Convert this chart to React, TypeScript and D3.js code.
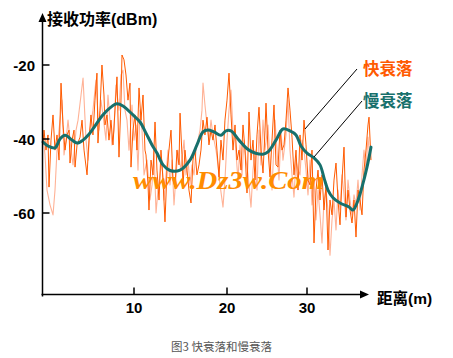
import React from "react";
import * as d3 from "d3";

const W = 453;
const H = 358;

// Fast fading, dark trace: [distance m, dBm]
const fastDark: [number, number][] = [
  [0, -41.6], [0.11, -37.6], [0.33, -43], [0.55, -38.9], [0.66, -53], [0.88, -40.3], [1.1, -33.5], [1.32, -43],
  [1.54, -38.9], [1.76, -45.7], [1.98, -24.9], [2.2, -36.2], [2.42, -43], [2.64, -38.9], [2.86, -37.6], [2.97, -46.5],
  [3.19, -40.3], [3.41, -37.6], [3.52, -47.6], [3.74, -41.6], [4.07, -39.5], [4.29, -34.9], [4.51, -43], [4.84, -49.7],
  [5.05, -40.3], [5.27, -33.5], [5.49, -38.9], [5.71, -29.5], [5.93, -22.2], [6.04, -41.1], [6.26, -32.2], [6.48, -20],
  [6.7, -28.1], [6.81, -36.2], [7.03, -33.5], [7.25, -40.3], [7.47, -34.9], [7.69, -41.6], [7.91, -32.2], [8.13, -23.2],
  [8.35, -44.9], [8.57, -29.5], [8.68, -17.3], [8.9, -18.6], [9.12, -22.7], [9.34, -29.5], [9.56, -24.9], [9.67, -47.6],
  [9.89, -37.6], [10.11, -33.5], [10.32, -43], [10.54, -26.2], [10.75, -34.9], [10.97, -28.1], [11.18, -43], [11.29, -44.3],
  [11.51, -52.4], [11.61, -59.2], [11.83, -45.7], [12.04, -49.7], [12.26, -35.4], [12.47, -48.4], [12.69, -56.5], [12.9, -43],
  [13.12, -51.1], [13.33, -62.4], [13.55, -48.4], [13.76, -43], [13.98, -37.6], [14.19, -51.1], [14.41, -53], [14.62, -43],
  [14.84, -47], [14.95, -33], [15.16, -44.3], [15.27, -53], [15.48, -43], [15.7, -48.4], [15.91, -53.8], [16.13, -57.3],
  [16.34, -45.7], [16.56, -43], [16.77, -49.7], [16.99, -47], [17.2, -43], [17.42, -34.9], [17.63, -38.9], [17.85, -34.1],
  [18.06, -41.6], [18.28, -37.6], [18.49, -40.3], [18.71, -36.2], [18.92, -43], [19.14, -50.3], [19.35, -40.3], [19.57, -45.7],
  [19.78, -34.9], [20, -29.5], [20.25, -22.2], [20.5, -33.5], [20.75, -43], [21.0, -36.2], [21.25, -45.7], [21.5, -43],
  [21.75, -48.4], [22.0, -36.2], [22.25, -43], [22.5, -54.6], [22.75, -32.7], [23.0, -45.7], [23.25, -40.3], [23.5, -51.1],
  [23.75, -38.9], [24.0, -31.4], [24.25, -43], [24.5, -49.2], [24.75, -37.6], [24.875, -30.3], [25.125, -43], [25.375, -50.3],
  [25.625, -40.3], [25.875, -30.8], [26.125, -47], [26.375, -47.6], [26.625, -37.6], [26.875, -43], [27.125, -41.6], [27.375, -34.9],
  [27.625, -26.2], [27.875, -32.2], [28.125, -39.5], [28.375, -49.7], [28.625, -43], [28.875, -53.8], [29.125, -38.9], [29.375, -45.7],
  [29.625, -34.9], [29.875, -41.6], [30.125, -51.1], [30.375, -52.4], [30.625, -43], [30.875, -68.1], [31.125, -53.8], [31.375, -48.4],
  [31.625, -56.5], [31.875, -49.7], [32.125, -59.2], [32.375, -52.4], [32.625, -70], [32.875, -56.5], [33.125, -60.5], [33.375, -51.1],
  [33.625, -46.5], [33.875, -56.5], [34.125, -63.2], [34.375, -51.1], [34.625, -42.2], [34.875, -61.1], [35.125, -53.8], [35.375, -59.2],
  [35.625, -62.7], [35.875, -56.5], [36.125, -66.5], [36.375, -53.8], [36.625, -56.5], [36.875, -60.5], [37.125, -48.4], [37.375, -43],
  [37.625, -36.2], [37.75, -34.1], [38.0, -45.7],
];

// Fast fading, light trace: [distance m, dBm]
const fastLight: [number, number][] = [
  [0, -38.9], [0.22, -44.3], [0.44, -53.8], [0.77, -57.8], [1.1, -60.5], [1.32, -53.8], [1.54, -43], [1.87, -34.9],
  [2.09, -29.5], [2.31, -44.3], [2.53, -40.3], [2.75, -34.9], [3.08, -43], [3.3, -47], [3.63, -37.6], [3.85, -34.9],
  [4.18, -28.1], [4.4, -23.5], [4.73, -40.3], [4.95, -45.7], [5.16, -37.6], [5.49, -32.2], [5.82, -24.1], [6.15, -37.6],
  [6.37, -29.5], [6.59, -33.5], [6.92, -40.3], [7.14, -28.1], [7.36, -34.9], [7.58, -41.6], [7.8, -37.6], [8.02, -25.4],
  [8.35, -32.2], [8.57, -22.7], [8.79, -21.4], [9.01, -32.2], [9.23, -34.9], [9.45, -43], [9.78, -30.8], [10, -40.3],
  [10.22, -36.2], [10.43, -48.4], [10.65, -32.2], [10.86, -37.6], [11.08, -49.7], [11.4, -45.7], [11.72, -56.5], [11.94, -52.4],
  [12.15, -43], [12.37, -60], [12.58, -53.8], [12.8, -49.7], [13.01, -45.7], [13.23, -56.5], [13.44, -49.7], [13.66, -43],
  [13.87, -52.4], [14.09, -45.7], [14.3, -57.8], [14.52, -49.7], [14.73, -43], [15.05, -48.4], [15.38, -40.3], [15.59, -49.7],
  [15.81, -45.7], [16.02, -52.4], [16.24, -47], [16.45, -49.7], [16.67, -43], [16.88, -40.3], [17.1, -37.6], [17.31, -32.2],
  [17.42, -24.9], [17.63, -30.8], [17.85, -36.2], [18.06, -40.3], [18.28, -34.9], [18.49, -38.9], [18.82, -43], [19.03, -47],
  [19.25, -52.4], [19.57, -58.4], [19.78, -51.1], [20, -40.3], [20.25, -32.2], [20.5, -26.8], [20.75, -37.6], [21.0, -40.3],
  [21.375, -51.1], [21.625, -41.6], [21.875, -49.7], [22.125, -40.3], [22.375, -45.7], [22.625, -49.7], [23.0, -58.4], [23.25, -48.4],
  [23.5, -43], [23.75, -53.8], [24.0, -37.6], [24.25, -47], [24.5, -34.9], [24.75, -43], [25.125, -36.2], [25.375, -45.7],
  [25.625, -53.8], [26.0, -34.9], [26.25, -43], [26.5, -51.1], [26.75, -37.6], [27.0, -45.7], [27.375, -38.9], [27.625, -29.5],
  [27.875, -43], [28.125, -49.7], [28.375, -55.7], [28.625, -45.7], [28.875, -48.4], [29.125, -49.7], [29.375, -40.3], [29.625, -43],
  [29.875, -48.4], [30.125, -55.1], [30.375, -45.7], [30.625, -57.8], [30.875, -51.1], [31.125, -61.9], [31.375, -53.8], [31.625, -60.5],
  [31.875, -68.1], [32.125, -56.5], [32.375, -53.8], [32.625, -59.2], [32.875, -71.4], [33.125, -61.9], [33.375, -56.5], [33.625, -64.6],
  [33.875, -53.8], [34.125, -59.2], [34.375, -49.7], [34.625, -55.1], [34.875, -61.9], [35.125, -51.1], [35.375, -56.5], [35.625, -60.5],
  [35.875, -55.1], [36.125, -57.8], [36.375, -51.1], [36.625, -59.2], [36.875, -49.7], [37.125, -43], [37.375, -48.4], [37.625, -39.5],
  [37.875, -45.7],
];

// Slow fading (local mean): [distance m, dBm]
const slowFading: [number, number][] = [
  [0, -40.8], [0.55, -41.9], [1.32, -42.4], [1.87, -40], [2.42, -39], [3.19, -40.3], [3.74, -41.1], [4.4, -40.3],
  [4.95, -39], [5.71, -36.5], [6.48, -33.8], [7.36, -31.6], [8.13, -30.5], [8.79, -31.1], [9.89, -33.5], [10.65, -35.4],
  [11.29, -38.4], [11.94, -41.6], [12.47, -43.8], [13.12, -47], [13.87, -48.5], [14.95, -48.4], [16.02, -45.7], [16.77, -41.6],
  [17.42, -38.1], [17.96, -37.6], [18.6, -38.1], [19.35, -39], [19.89, -37.8], [20.5, -37.8], [21.5, -40.3], [22.75, -43],
  [24.5, -44.1], [25.125, -43.5], [26.125, -40.3], [27.0, -37.3], [27.875, -37.8], [28.625, -38.9], [29.25, -41.9], [30.0, -43.8],
  [30.875, -45.1], [31.625, -47], [32.125, -50.5], [32.625, -53.8], [33.25, -55.9], [34.125, -57.3], [35.25, -58.4], [35.75, -59.2],
  [36.25, -57.3], [36.875, -53], [37.5, -47.6], [38.0, -42.2],
];

const xTicks = [10, 20, 30];
const yTicks = [-20, -40, -60];

const yTitle = "接收功率(dBm)";
const xTitle = "距离(m)";
const fastLabel = "快衰落";
const slowLabel = "慢衰落";
const caption = "图3  快衰落和慢衰落";
const watermark = "www.Dz3w.Com";

export default function App() {
  // The original's distance axis is not uniformly spaced; use a piecewise linear scale.
  const x = d3.scaleLinear().domain([0, 10, 20, 40]).range([43, 134, 227, 387]);
  const y = d3.scaleLinear().domain([-20, -60]).range([65, 213]);

  const axisX = 42.5;
  const axisY = 294.5;
  const topY = 13;
  const rightX = 369;

  const lineFast = d3
    .line<[number, number]>()
    .x((d) => x(d[0]))
    .y((d) => y(d[1]));
  const lineSlow = d3
    .line<[number, number]>()
    .x((d) => x(d[0]))
    .y((d) => y(d[1]))
    .curve(d3.curveCatmullRom.alpha(0.5));

  const dark = "#ff5a00";
  const light = "#ffb296";
  const teal = "#17706c";

  const latin = "'Liberation Sans', Arial, 'Noto Sans CJK SC', sans-serif";

  return (
    <svg
      width={W}
      height={H}
      viewBox={`0 0 ${W} ${H}`}
      style={{ position: "absolute", left: 0, top: 0, background: "#fff" }}
    >
      <rect x={0} y={0} width={W} height={H} fill="#fff" />

      {/* fast fading traces */}
      <path d={lineFast(fastLight) || ""} fill="none" stroke={light} strokeWidth={1.1} strokeLinejoin="round" />
      <path d={lineFast(fastDark) || ""} fill="none" stroke={dark} strokeWidth={1} strokeLinejoin="round" />

      {/* watermark */}
      <text
        x={133}
        y={189}
        fontFamily="'Liberation Serif', 'Times New Roman', serif"
        fontStyle="italic"
        fontWeight="bold"
        fontSize={25}
        fill="#ff8c00"
        textLength={191}
        lengthAdjust="spacingAndGlyphs"
      >
        {watermark}
      </text>

      {/* slow fading */}
      <path d={lineSlow(slowFading) || ""} fill="none" stroke={teal} strokeWidth={3} strokeLinejoin="round" strokeLinecap="round" />

      {/* axes */}
      <line x1={axisX} y1={topY + 6} x2={axisX} y2={axisY + 2} stroke="#000" strokeWidth={1.5} />
      <path d={`M${axisX},${topY} L${axisX - 4},${topY + 9} L${axisX + 4},${topY + 9} Z`} fill="#000" />
      <line x1={axisX - 1} y1={axisY} x2={rightX - 6} y2={axisY} stroke="#000" strokeWidth={1.5} />
      <path d={`M${rightX},${axisY} L${rightX - 9},${axisY - 4} L${rightX - 9},${axisY + 4} Z`} fill="#000" />

      {yTicks.map((t) => (
        <g key={t}>
          <line x1={axisX} x2={axisX + 7} y1={y(t)} y2={y(t)} stroke="#000" strokeWidth={1.5} />
          <text x={35} y={y(t) + 5.5} textAnchor="end" fontFamily={latin} fontWeight="bold" fontSize={15} fill="#000">
            {t}
          </text>
        </g>
      ))}
      {xTicks.map((t) => (
        <g key={t}>
          <line x1={x(t)} x2={x(t)} y1={axisY} y2={axisY - 7} stroke="#000" strokeWidth={1.5} />
          <text x={x(t)} y={313} textAnchor="middle" fontFamily={latin} fontWeight="bold" fontSize={15} fill="#000">
            {t}
          </text>
        </g>
      ))}

      {/* axis titles */}
      <text x={47} y={25} fontFamily={latin} fontWeight="bold" fontSize={16} fill="#000">
        {yTitle}
      </text>
      <text x={377} y={304} fontFamily={latin} fontWeight="bold" fontSize={15.5} fill="#000">
        {xTitle}
      </text>

      {/* annotations */}
      <line x1={357} y1={69} x2={305} y2={129} stroke="#000" strokeWidth={1} />
      <line x1={362} y1={101} x2={314} y2={157} stroke="#000" strokeWidth={1} />
      <text x={363} y={75} fontFamily="'Noto Sans CJK SC', sans-serif" fontWeight="bold" fontSize={16.5} fill={dark}>
        {fastLabel}
      </text>
      <text x={363} y={107} fontFamily="'Noto Sans CJK SC', sans-serif" fontWeight="bold" fontSize={16.5} fill={teal}>
        {slowLabel}
      </text>

      {/* caption */}
      <text x={171} y={351} fontFamily="'Noto Sans CJK SC', serif" fontSize={11.5} fill="#555">
        {caption}
      </text>
    </svg>
  );
}
